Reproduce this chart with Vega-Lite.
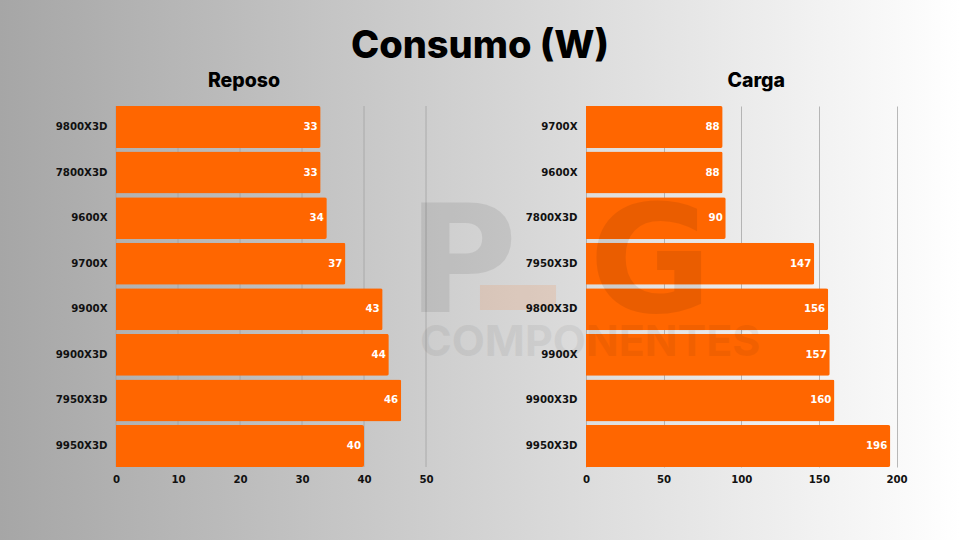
{
  "$schema": "https://vega.github.io/schema/vega-lite/v6.json",
  "padding": {"left": -1, "top": 0, "right": 0, "bottom": 0},
  "bounds": "flush",
  "spacing": 160,
  "title": {"text": "Consumo (W)", "font": "Inter", "fontSize": 38, "fontWeight": 800, "color": "#000000", "anchor": "middle", "dx": 0, "offset": -66},
  "datasets": {
    "fondo": [{"x0": -18.71, "x1": 136.13, "y0": -0.2078, "y1": 1.2936}],
    "rejilla": [{"watts": 0}, {"watts": 10}, {"watts": 20}, {"watts": 30}, {"watts": 40}, {"watts": 50}],
    "reposo": [
      {"cpu": "9800X3D", "watts": 33},
      {"cpu": "7800X3D", "watts": 33},
      {"cpu": "9600X", "watts": 34},
      {"cpu": "9700X", "watts": 37},
      {"cpu": "9900X", "watts": 43},
      {"cpu": "9900X3D", "watts": 44},
      {"cpu": "7950X3D", "watts": 46},
      {"cpu": "9950X3D", "watts": 40}
    ],
    "carga": [
      {"cpu": "9700X", "watts": 88},
      {"cpu": "9600X", "watts": 88},
      {"cpu": "7800X3D", "watts": 90},
      {"cpu": "7950X3D", "watts": 147},
      {"cpu": "9800X3D", "watts": 156},
      {"cpu": "9900X", "watts": 157},
      {"cpu": "9900X3D", "watts": 160},
      {"cpu": "9950X3D", "watts": 196}
    ],
    "letras": [
      {"texto": "P", "x": -115, "y": 0.554},
      {"texto": "G", "x": 2, "y": 0.554}
    ],
    "marca": [{"texto": "COMPONENTES", "x": -107, "y": 0.343}],
    "bloque": [{"x0": -68.3, "x1": -19.3, "y0": 0.435, "y1": 0.504}]
  },
  "config": {
    "view": {"stroke": null},
    "axis": {
      "labelFont": "DejaVu Sans",
      "labelFontWeight": "bold",
      "labelFontSize": 10.2,
      "labelColor": "#111111",
      "labelFlush": false,
      "title": null,
      "ticks": false,
      "domain": false
    }
  },
  "hconcat": [
    {
      "width": 310,
      "height": 361,
      "title": {"text": "Reposo", "font": "Inter", "fontSize": 19.5, "fontWeight": 800, "color": "#000000", "anchor": "middle", "dx": -27, "offset": -91},
      "resolve": {"scale": {"y": "independent"}},
      "layer": [
        {
          "data": {"name": "fondo"},
          "mark": {"type": "rect", "clip": false, "color": {"gradient": "linear", "x1": 0, "y1": 0, "x2": 1, "y2": 0, "stops": [{"offset": 0, "color": "#a6a6a6"}, {"offset": 1, "color": "#ffffff"}]}},
          "encoding": {
            "x": {"field": "x0", "type": "quantitative", "scale": {"domain": [0, 50]}, "axis": {"values": [0, 10, 20, 30, 40, 50], "grid": false, "labelPadding": 7, "zindex": 1}},
            "x2": {"field": "x1"},
            "y": {"field": "y0", "type": "quantitative", "scale": {"domain": [0, 1]}, "axis": null},
            "y2": {"field": "y1"}
          }
        },
        {
          "data": {"name": "rejilla"},
          "mark": {"type": "rule", "color": "#9c9c9c", "strokeWidth": 1, "opacity": 0.7},
          "encoding": {"x": {"field": "watts", "type": "quantitative"}}
        },
        {
          "data": {"name": "reposo"},
          "encoding": {
            "y": {"field": "cpu", "type": "nominal", "sort": null, "scale": {"paddingInner": 0.08, "paddingOuter": 0}, "axis": {"labelPadding": 9, "grid": false, "zindex": 1}},
            "x": {"field": "watts", "type": "quantitative"}
          },
          "layer": [
            {"mark": {"type": "bar", "color": "#ff6600", "cornerRadiusEnd": 2}},
            {"mark": {"type": "text", "align": "right", "dx": -3, "color": "#ffffff", "font": "DejaVu Sans", "fontWeight": "bold", "fontSize": 10.2}, "encoding": {"text": {"field": "watts", "type": "quantitative"}}}
          ]
        }
      ]
    },
    {
      "width": 310.5,
      "height": 361,
      "title": {"text": "Carga", "font": "Inter", "fontSize": 19.5, "fontWeight": 800, "color": "#000000", "anchor": "middle", "dx": 15, "offset": 15},
      "resolve": {"scale": {"y": "independent"}},
      "layer": [
        {
          "data": {"name": "carga"},
          "encoding": {
            "y": {"field": "cpu", "type": "nominal", "sort": null, "scale": {"paddingInner": 0.08, "paddingOuter": 0}, "axis": {"labelPadding": 9, "grid": false, "zindex": 1}},
            "x": {"field": "watts", "type": "quantitative", "scale": {"domain": [0, 200]}, "axis": {"values": [0, 50, 100, 150, 200], "grid": true, "gridColor": "#9c9c9c", "gridWidth": 1, "gridOpacity": 0.7, "labelPadding": 7, "zindex": 0}}
          },
          "layer": [
            {"mark": {"type": "bar", "color": "#ff6600", "cornerRadiusEnd": 2}},
            {"mark": {"type": "text", "align": "right", "dx": -3, "color": "#ffffff", "font": "DejaVu Sans", "fontWeight": "bold", "fontSize": 10.2}, "encoding": {"text": {"field": "watts", "type": "quantitative"}}}
          ]
        },
        {
          "encoding": {
            "y": {"field": "y", "type": "quantitative", "scale": {"domain": [0, 1]}, "axis": null},
            "x": {"field": "x", "type": "quantitative"}
          },
          "layer": [
            {"data": {"name": "letras"}, "mark": {"type": "text", "align": "left", "baseline": "middle", "font": "DejaVu Sans", "fontWeight": "bold", "fontSize": 150, "color": "#000000", "opacity": 0.08, "clip": false}, "encoding": {"text": {"field": "texto"}}},
            {"data": {"name": "marca"}, "mark": {"type": "text", "align": "left", "baseline": "middle", "font": "Inter", "fontWeight": 700, "fontSize": 43, "color": "#000000", "opacity": 0.05, "clip": false}, "encoding": {"text": {"field": "texto"}}},
            {"data": {"name": "bloque"}, "mark": {"type": "rect", "color": "#ff6600", "opacity": 0.12, "clip": false}, "encoding": {"x": {"field": "x0", "type": "quantitative"}, "x2": {"field": "x1"}, "y": {"field": "y0", "type": "quantitative"}, "y2": {"field": "y1"}}}
          ]
        }
      ]
    }
  ]
}
